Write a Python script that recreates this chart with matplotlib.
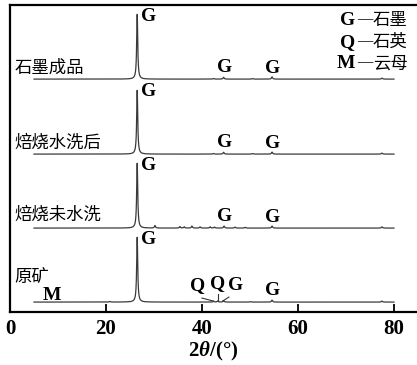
import numpy as np
import matplotlib.pyplot as plt

plt.rcParams['mathtext.fontset'] = 'custom'
plt.rcParams['mathtext.rm'] = 'Liberation Serif:bold'
plt.rcParams['mathtext.it'] = 'Liberation Serif:bold:italic'

# sample names, bottom to top
samples = ['原矿', '焙烧未水洗', '焙烧水洗后', '石墨成品']
offsets = [10, 84, 158, 233]

# peak positions (2theta) and heights for each pattern
peaks_raw = [20.8, 26.5, 42.4, 43.3, 44.5, 50.1, 54.6, 77.5]
heights_raw = [0.6, 65, 0.8, 1.2, 1.5, 0.5, 2.0, 1.0]

peaks_roast = [26.5, 30.2, 35.4, 36.3, 37.9, 39.6, 41.7, 42.6, 44.6, 46.9, 49.0, 54.6, 77.5]
heights_roast = [65, 2.5, 1.5, 1.2, 2.0, 1.2, 1.2, 1.0, 2.0, 1.0, 0.8, 2.0, 1.2]

peaks_wash = [26.5, 42.4, 44.5, 50.5, 54.6, 77.5]
heights_wash = [64, 0.6, 1.8, 0.5, 2.0, 1.0]

peaks_prod = [26.5, 42.4, 44.5, 50.5, 54.6, 77.5]
heights_prod = [65, 0.6, 1.8, 0.5, 2.2, 1.0]

patterns = [(peaks_raw, heights_raw), (peaks_roast, heights_roast),
            (peaks_wash, heights_wash), (peaks_prod, heights_prod)]

two_theta = np.linspace(5, 80, 4000)


def profile(centers, amps, w=0.13):
    y = np.zeros_like(two_theta)
    for c, a in zip(centers, amps):
        y += a * w**2 / ((two_theta - c)**2 + w**2)
    return y


fig = plt.figure(figsize=(4.17, 3.65), dpi=100)
ax = fig.add_axes([0.024, 0.145, 0.976, 0.841])

for off, (c, a) in zip(offsets, patterns):
    ax.plot(two_theta, off + profile(c, a), color='#3a3a3a', lw=0.9)

ax.set_xlim(0, 84.8)
ax.set_ylim(0, 307)
ax.spines['right'].set_visible(False)
for s in ['left', 'top', 'bottom']:
    ax.spines[s].set_linewidth(1.6)
ax.set_yticks([])
ax.set_xticks([0, 20, 40, 60, 80])
ax.tick_params(axis='x', direction='in', length=6, width=1.3, pad=5)
for lb in ax.get_xticklabels():
    lb.set_fontfamily('Liberation Serif')
    lb.set_fontweight('bold')
    lb.set_fontsize(15)

ax.set_xlabel('2$\\theta$/(°)', fontsize=15, fontfamily='Liberation Serif',
              fontweight='bold', labelpad=1)

cjk = ['Noto Sans CJK SC', 'DejaVu Sans']
serif_b = dict(fontfamily='Liberation Serif', fontweight='bold', fontsize=14)

# sample names
name_y = [35, 97, 169, 244]
for name, y in zip(samples, name_y):
    ax.text(1.0, y, name, fontfamily=cjk, fontsize=12.5, va='center', ha='left')

# graphite main peak labels
for off in offsets:
    ax.text(27.2, off + 63, 'G', ha='left', va='center', **serif_b)

# minor graphite labels on the upper three patterns
for off in offsets[1:]:
    ax.text(44.6, off + 12, 'G', ha='center', va='center', **serif_b)
    ax.text(54.8, off + 11, 'G', ha='center', va='center', **serif_b)

# raw ore labels
ax.text(8.8, 17, 'M', ha='center', va='center', **serif_b)
ax.text(39.0, 27, 'Q', ha='center', va='center', **serif_b)
ax.text(43.3, 29, 'Q', ha='center', va='center', **serif_b)
ax.text(47.0, 27, 'G', ha='center', va='center', **serif_b)
ax.text(54.8, 22, 'G', ha='center', va='center', **serif_b)
ax.plot([40.0, 42.4], [14, 11], color='#333333', lw=0.8)
ax.plot([43.3, 43.3], [18, 11], color='#333333', lw=0.8)
ax.plot([45.6, 44.3], [15, 11], color='#333333', lw=0.8)

# phase key: symbol, dash, phase name
key = [('G', '石墨', 292), ('Q', '石英', 270), ('M', '云母', 249)]
for sym, txt, y in key:
    ax.text(72.0, y, sym, ha='right', va='center', **serif_b)
    ax.text(72.3, y, '—', ha='left', va='center', fontfamily='Liberation Serif',
            fontsize=11)
    ax.text(75.6, y, txt, ha='left', va='center', fontfamily=cjk, fontsize=12.5)

fig.savefig('out.png', dpi=100)
